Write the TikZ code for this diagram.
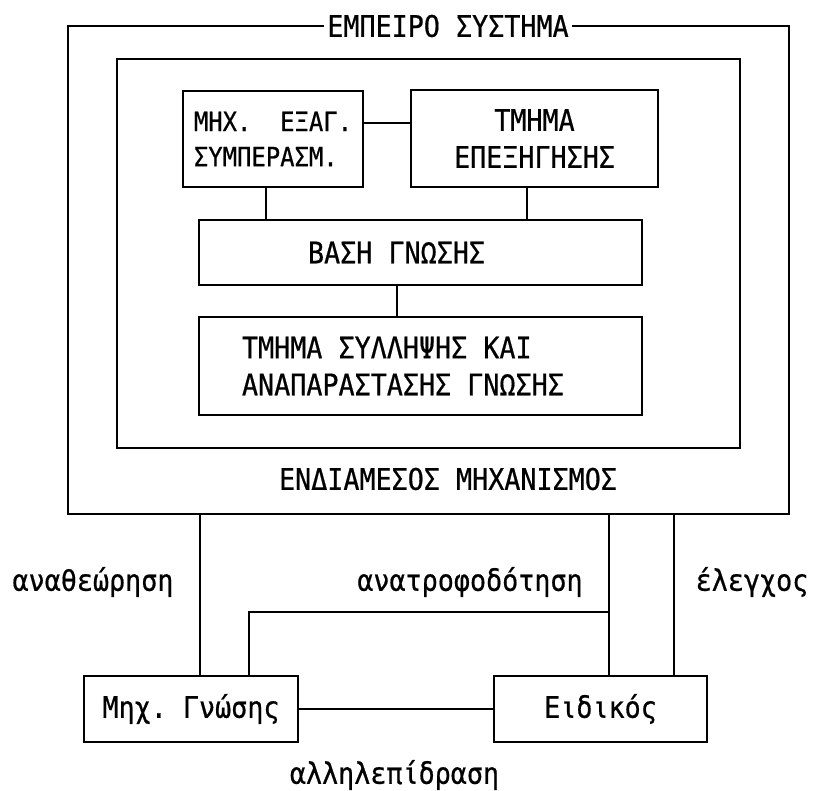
\documentclass[tikz,border=0pt]{standalone}
\usepackage{fontspec}
\setmonofont[FakeStretch=0.9, FakeBold=0.6]{DejaVu Sans Mono}
\usepackage{tikz}
\usetikzlibrary{positioning, calc}

\begin{document}
\begin{tikzpicture}[
  every node/.style={font=\ttfamily\fontsize{16.9}{21}\selectfont},
  frame/.style={draw, line width=1.3pt, inner sep=0pt},
  box/.style={draw, line width=1.3pt, inner sep=0pt, align=center},
  link/.style={line width=1.1pt},
]
  \useasboundingbox (0,0) rectangle (16.30,-15.82);

  \node[frame, minimum width=14.42cm, minimum height=9.76cm] (sys) at (8.57,-5.40) {};
  \node[fill=white, inner xsep=2pt, inner ysep=1pt] (title) at (8.96,-0.52) {ΕΜΠΕΙΡΟ ΣΥΣΤΗΜΑ};

  \node[frame, minimum width=12.46cm, minimum height=7.78cm] (shell) at (8.57,-5.07) {};

  \node[box, align=left, minimum width=3.6cm, minimum height=1.92cm,
        font=\ttfamily\fontsize{15.1}{20}\selectfont] (infer) at (5.46,-2.78)
       {ΜΗΧ.~~ΕΞΑΓ.\\ΣΥΜΠΕΡΑΣΜ.};
  \node[box, minimum width=4.94cm, minimum height=1.94cm] (expl) at (10.69,-2.77)
       {ΤΜΗΜΑ\\ΕΠΕΞΗΓΗΣΗΣ};

  \node[box, inner xsep=2.18cm, minimum height=1.3cm]
       (kbase) at (8.41,-5.05) {\makebox[4.5cm][l]{ΒΑΣΗ ΓΝΩΣΗΣ}};
  \node[box, align=left, inner xsep=0.86cm, minimum height=1.96cm]
       (acq) at (8.41,-7.32) {\makebox[7.14cm][l]{ΤΜΗΜΑ ΣΥΛΛΗΨΗΣ ΚΑΙ}\\ΑΝΑΠΑΡΑΣΤΑΣΗΣ ΓΝΩΣΗΣ};

  \node (iface) at (8.96,-9.58) {ΕΝΔΙΑΜΕΣΟΣ ΜΗΧΑΝΙΣΜΟΣ};

  \coordinate (ie) at ([yshift=0.32cm]infer.east);
  \coordinate (il) at ([xshift=-0.14cm]infer.south);
  \coordinate (el) at ([xshift=-0.15cm]expl.south);
  \coordinate (bl) at ([xshift=-0.47cm]kbase.south);
  \draw[link] (ie) -- (ie -| expl.west);
  \draw[link] (il) -- (il |- kbase.north);
  \draw[link] (el) -- (el |- kbase.north);
  \draw[link] (bl) -- (bl |- acq.north);

  \node[box, minimum width=4.28cm, minimum height=1.32cm] (eng) at (3.82,-14.18) {Μηχ. Γνώσης};
  \node[box, minimum width=4.26cm, minimum height=1.32cm] (expert) at (12.01,-14.18) {Ειδικός};
  \draw[link] (eng) -- (expert);

  \coordinate (rv) at (4.00,-12.24);
  \coordinate (fb) at (12.18,-12.24);
  \coordinate (fbl) at (4.98,-12.24);
  \coordinate (ct) at (13.48,-12.24);
  \draw[link] (sys.south -| rv) -- (eng.north -| rv);
  \draw[link] (sys.south -| fb) -- (expert.north -| fb);
  \draw[link] (fb) -- (fbl) -- (eng.north -| fbl);
  \draw[link] (sys.south -| ct) -- (expert.north -| ct);

  \node (revtxt) at (1.86,-11.64) {αναθεώρηση};
  \node (fbtxt) at (9.40,-11.64) {ανατροφοδότηση};
  \node (cttxt) at (15.04,-11.64) {έλεγχος};
  \node (intxt) at (7.89,-15.50) {αλληλεπίδραση};
\end{tikzpicture}
\end{document}
